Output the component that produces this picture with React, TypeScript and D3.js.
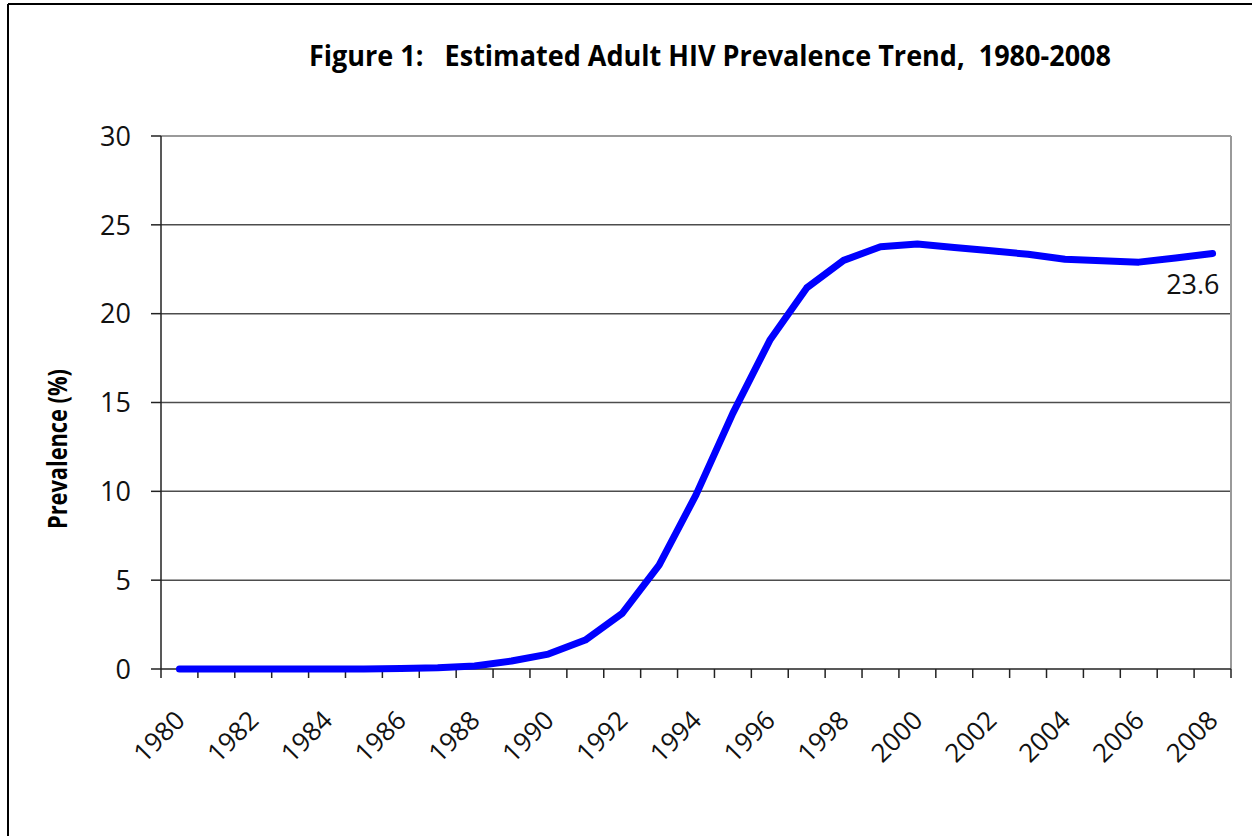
import React from 'react';
import * as d3 from 'd3';

const years = ['1980','1981','1982','1983','1984','1985','1986','1987','1988','1989','1990','1991','1992','1993','1994','1995','1996','1997','1998','1999','2000','2001','2002','2003','2004','2005','2006','2007','2008'];
const prevalence = [0,0,0,0,0,0,0.03,0.07,0.17,0.45,0.84,1.63,3.13,5.85,9.8,14.4,18.5,21.45,23.0,23.77,23.92,23.73,23.54,23.34,23.06,22.98,22.9,23.13,23.39];
const yTicks = [0,5,10,15,20,25,30];
const xLabelYears = ['1980','1982','1984','1986','1988','1990','1992','1994','1996','1998','2000','2002','2004','2006','2008'];
const titleText = 'Figure 1:   Estimated Adult HIV Prevalence Trend,  1980-2008';
const yAxisTitle = 'Prevalence (%)';
const endLabel = '23.6';

const FONT = '"Open Sans", "DejaVu Sans", sans-serif';

export default function App() {
  const W = 1252, H = 836;
  const left = 161, right = 1231, top = 136, bottom = 669;
  const x = d3.scaleBand<string>().domain(years).range([left, right]).paddingInner(0).paddingOuter(0);
  const y = d3.scaleLinear().domain([0, 30]).range([bottom, top]);
  const bw = x.bandwidth();
  const cx = (yr: string) => (x(yr) as number) + bw / 2;
  const line = d3.line<number>().x((_, i) => cx(years[i])).y(d => y(d));
  const boundaries = years.map(yr => x(yr) as number).concat([right]);
  const lastYear = years[years.length - 1];
  const lastVal = prevalence[prevalence.length - 1];

  return (
    <svg width={W} height={H} style={{ position: 'absolute', left: 0, top: 0, background: '#fff' }}>
      <rect x={0} y={0} width={W} height={H} fill="#fff" />
      {/* outer frame */}
      <line x1={8} y1={4} x2={W} y2={4} stroke="#000" strokeWidth={2} />
      <line x1={8} y1={4} x2={8} y2={H} stroke="#000" strokeWidth={2} />

      <text x={710} y={66} textAnchor="middle" fontFamily={FONT} fontWeight="bold" fontSize={28}
        textLength={802} lengthAdjust="spacingAndGlyphs" style={{ whiteSpace: 'pre' }} fill="#000">
        {titleText}
      </text>

      {/* gridlines */}
      {yTicks.filter(t => t > 0 && t < 30).map(t => (
        <line key={t} x1={left} x2={right} y1={y(t)} y2={y(t)} stroke="#4d4d4d" strokeWidth={1.5} />
      ))}
      {/* plot border top/right */}
      <line x1={left} x2={right} y1={y(30)} y2={y(30)} stroke="#9a9a9a" strokeWidth={2} />
      <line x1={right} x2={right} y1={y(30)} y2={bottom} stroke="#9a9a9a" strokeWidth={2} />

      {/* y axis */}
      <line x1={left} x2={left} y1={top} y2={bottom} stroke="#222" strokeWidth={1.5} />
      {yTicks.map(t => (
        <g key={t}>
          <line x1={left - 10} x2={left} y1={y(t)} y2={y(t)} stroke="#222" strokeWidth={1.5} />
          <text x={131} y={y(t)} dy="0.36em" textAnchor="end" fontFamily={FONT} fontSize={27} fill="#111">{t}</text>
        </g>
      ))}
      <text transform={`translate(67, 449) rotate(-90)`} textAnchor="middle" fontFamily={FONT}
        fontWeight="bold" fontSize={26} textLength={160} lengthAdjust="spacingAndGlyphs" fill="#000">
        {yAxisTitle}
      </text>

      {/* x axis */}
      <line x1={left} x2={right} y1={bottom} y2={bottom} stroke="#222" strokeWidth={1.5} />
      {boundaries.map((b, i) => (
        <line key={i} x1={b} x2={b} y1={bottom} y2={bottom + 9} stroke="#222" strokeWidth={1.5} />
      ))}
      {xLabelYears.map(yr => (
        <text key={yr} transform={`translate(${cx(yr) + 7}, 722) rotate(-45)`} textAnchor="end"
          fontFamily={FONT} fontSize={26} fill="#111">{yr}</text>
      ))}

      {/* series */}
      <path d={line(prevalence) || ''} fill="none" stroke="#0000ff" strokeWidth={7}
        strokeLinejoin="round" strokeLinecap="round" />
      <text x={cx(lastYear) + 7} y={y(lastVal) + 41} textAnchor="end" fontFamily={FONT} fontSize={27} fill="#111">
        {endLabel}
      </text>
    </svg>
  );
}
